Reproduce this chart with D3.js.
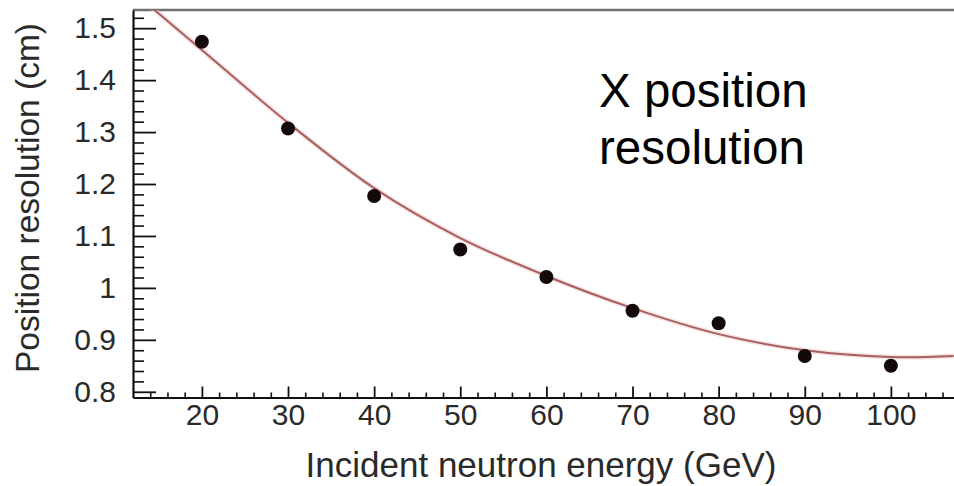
<!DOCTYPE html>
<html>
<head>
<meta charset="utf-8">
<script src="https://cdn.jsdelivr.net/npm/d3@7/dist/d3.min.js"></script>
<style>
  html, body { margin: 0; padding: 0; background: #fff; }
  svg { display: block; }
</style>
</head>
<body>
<svg id="chart" width="954" height="486"></svg>
<script>
// ---- data ----
const energies = [20, 30, 40, 50, 60, 70, 80, 90, 100];
const resolution = [1.474, 1.307, 1.177, 1.074, 1.021, 0.956, 0.932, 0.869, 0.850];

// fitted curve
const fitEnergy = [12, 14.5, 20, 30, 40, 50, 60, 70, 80, 90, 100, 107.3];
const fitResolution = [1.57, 1.535, 1.458, 1.318, 1.192, 1.096, 1.023, 0.961, 0.911, 0.880, 0.867, 0.869];

const xTickValues = [20, 30, 40, 50, 60, 70, 80, 90, 100];
const yTickValues = [0.8, 0.9, 1.0, 1.1, 1.2, 1.3, 1.4, 1.5];
const yTickLabels = ["0.8", "0.9", "1", "1.1", "1.2", "1.3", "1.4", "1.5"];

const xTitle = "Incident neutron energy (GeV)";
const yTitle = "Position resolution (cm)";
const noteLines = ["X position", "resolution"];

// ---- layout ----
const mLeft = 133, mRight = 954, mTop = 10, mBottom = 397.5;
const svg = d3.select("#chart");
const font = "'Liberation Sans', Arial, Helvetica, sans-serif";

const x = d3.scaleLinear().domain([12, 107.33]).range([mLeft, mRight]);
const y = d3.scaleLinear().domain([0.789, 1.535]).range([mBottom, mTop]);

svg.append("defs").append("clipPath").attr("id", "plot")
  .append("rect").attr("x", mLeft).attr("y", mTop).attr("width", mRight - mLeft).attr("height", mBottom - mTop);

// top border
svg.append("line").attr("x1", mLeft).attr("x2", mRight).attr("y1", mTop).attr("y2", mTop)
  .attr("stroke", "#6f6f6f").attr("stroke-width", 2.5);

// minor ticks
const xMinor = d3.range(14, 107, 2).filter(v => v % 10 !== 0);
const yMinor = d3.range(0.8, 1.53, 0.02).map(v => +v.toFixed(2)).filter(v => Math.abs(v * 10 - Math.round(v * 10)) > 1e-6);

svg.append("g").attr("transform", `translate(0,${mBottom})`)
  .call(d3.axisBottom(x).tickValues(xMinor).tickSizeInner(-5).tickSizeOuter(0).tickFormat(""))
  .call(g => g.select(".domain").remove())
  .call(g => g.selectAll("line").attr("stroke", "#111").attr("stroke-width", 1.6));

svg.append("g").attr("transform", `translate(${mLeft},0)`)
  .call(d3.axisLeft(y).tickValues(yMinor).tickSizeInner(-11).tickSizeOuter(0).tickFormat(""))
  .call(g => g.select(".domain").remove())
  .call(g => g.selectAll("line").attr("stroke", "#111").attr("stroke-width", 1.6));

// major axes
const xAxis = svg.append("g").attr("transform", `translate(0,${mBottom})`)
  .call(d3.axisBottom(x).tickValues(xTickValues).tickSizeInner(-11).tickSizeOuter(0).tickPadding(6));
xAxis.select(".domain").attr("stroke", "#111").attr("stroke-width", 2.2);
xAxis.selectAll(".tick line").attr("stroke", "#111").attr("stroke-width", 1.8);
xAxis.selectAll(".tick text").attr("font-family", font).attr("font-size", 30).attr("fill", "#2a2a2a");

const yAxis = svg.append("g").attr("transform", `translate(${mLeft},0)`)
  .call(d3.axisLeft(y).tickValues(yTickValues).tickSizeInner(-23).tickSizeOuter(0).tickPadding(17)
    .tickFormat((d, i) => yTickLabels[i]));
yAxis.select(".domain").attr("stroke", "#111").attr("stroke-width", 2.2);
yAxis.selectAll(".tick line").attr("stroke", "#111").attr("stroke-width", 1.8);
yAxis.selectAll(".tick text").attr("font-family", font).attr("font-size", 30).attr("fill", "#2a2a2a");

// fit curve
const fitData = fitEnergy.map((e, i) => [e, fitResolution[i]]);
const line = d3.line().x(d => x(d[0])).y(d => y(d[1])).curve(d3.curveCatmullRom.alpha(0.5));
const plot = svg.append("g").attr("clip-path", "url(#plot)");
plot.append("path").datum(fitData).attr("d", line)
  .attr("fill", "none").attr("stroke", "#f3d0d0").attr("stroke-width", 5).attr("opacity", 0.6);
plot.append("path").datum(fitData).attr("d", line)
  .attr("fill", "none").attr("stroke", "#a85f5f").attr("stroke-width", 2);

// data points
svg.append("g").selectAll("circle").data(energies).join("circle")
  .attr("cx", d => x(d)).attr("cy", (d, i) => y(resolution[i])).attr("r", 7)
  .attr("fill", "#140909");

// axis titles
svg.append("text").attr("x", 541).attr("y", 477).attr("text-anchor", "middle")
  .attr("font-family", font).attr("font-size", 35).attr("fill", "#2a2a2a").text(xTitle);
svg.append("text").attr("transform", "translate(39,198) rotate(-90)").attr("text-anchor", "middle")
  .attr("font-family", font).attr("font-size", 33.5).attr("fill", "#2a2a2a").text(yTitle);

// annotation
svg.append("g").selectAll("text").data(noteLines).join("text")
  .attr("x", 599).attr("y", (d, i) => 107 + i * 57)
  .attr("font-family", font).attr("font-size", 47.5).attr("fill", "#000").text(d => d);
</script>
</body>
</html>
